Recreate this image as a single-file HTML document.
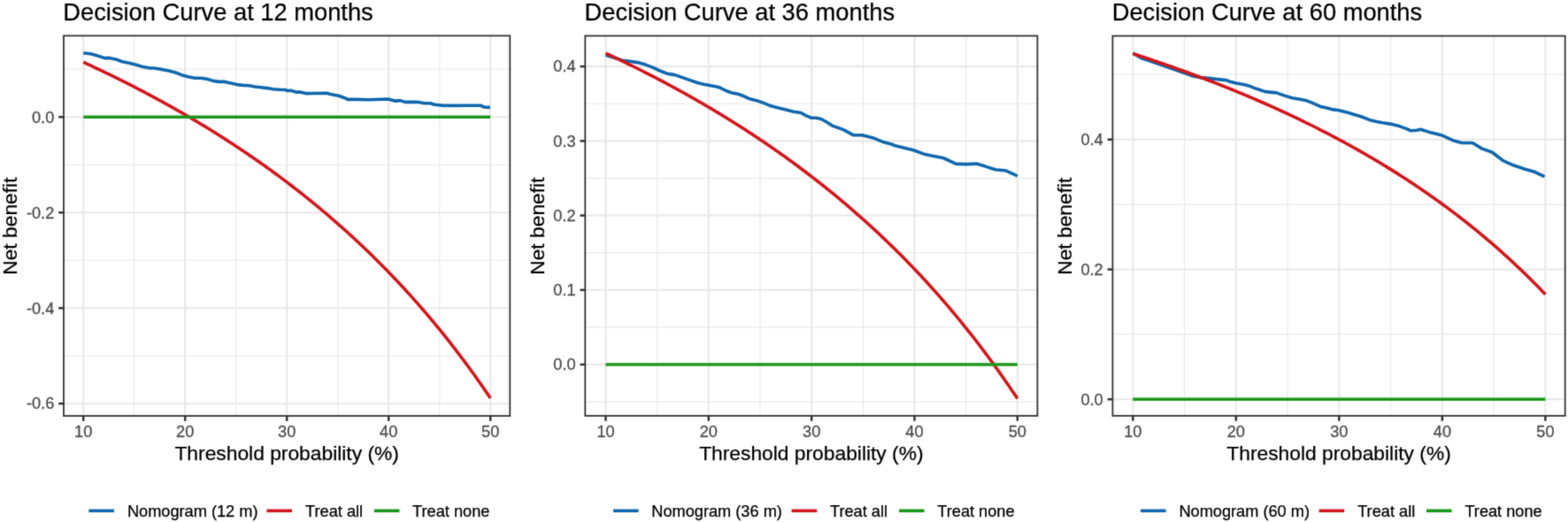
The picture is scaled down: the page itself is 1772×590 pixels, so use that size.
<!DOCTYPE html>
<html><head><meta charset="utf-8"><title>Decision Curves</title>
<style>
html,body{margin:0;padding:0;background:#fff;}
body{width:1772px;height:590px;overflow:hidden;}
svg{display:block;}
text{font-family:"Liberation Sans",Arial,sans-serif;}
.tk{font-size:18.2px;fill:#4d4d4d;stroke:#4d4d4d;stroke-width:0.3px;}
.ax{font-size:22.8px;fill:#000;stroke:#000;stroke-width:0.25px;}
.ti{font-size:27.3px;fill:#000;stroke:#000;stroke-width:0.25px;}
.lg{font-size:18.2px;fill:#000;stroke:#000;stroke-width:0.25px;}
</style></head><body>
<svg width="1772" height="590" viewBox="0 0 1772 590">
<defs><filter id="soft" x="0" y="0" width="1772" height="590" filterUnits="userSpaceOnUse" color-interpolation-filters="sRGB"><feConvolveMatrix order="3" kernelMatrix="0.01917 0.10012 0.01917 0.10012 0.52283 0.10012 0.01917 0.10012 0.01917" edgeMode="duplicate"/></filter></defs>
<g filter="url(#soft)">
<rect x="0" y="0" width="1772" height="590" fill="#ffffff"/>
<line x1="151.7" y1="40.4" x2="151.7" y2="470.1" stroke="#e8e8e8" stroke-width="1.1"/>
<line x1="266.7" y1="40.4" x2="266.7" y2="470.1" stroke="#e8e8e8" stroke-width="1.1"/>
<line x1="381.7" y1="40.4" x2="381.7" y2="470.1" stroke="#e8e8e8" stroke-width="1.1"/>
<line x1="496.7" y1="40.4" x2="496.7" y2="470.1" stroke="#e8e8e8" stroke-width="1.1"/>
<line x1="72" y1="78.32" x2="576.3" y2="78.32" stroke="#e8e8e8" stroke-width="1.1"/>
<line x1="72" y1="186.28" x2="576.3" y2="186.28" stroke="#e8e8e8" stroke-width="1.1"/>
<line x1="72" y1="294.24" x2="576.3" y2="294.24" stroke="#e8e8e8" stroke-width="1.1"/>
<line x1="72" y1="402.2" x2="576.3" y2="402.2" stroke="#e8e8e8" stroke-width="1.1"/>
<line x1="94.2" y1="40.4" x2="94.2" y2="470.1" stroke="#e8e8e8" stroke-width="2.1"/>
<line x1="209.2" y1="40.4" x2="209.2" y2="470.1" stroke="#e8e8e8" stroke-width="2.1"/>
<line x1="324.2" y1="40.4" x2="324.2" y2="470.1" stroke="#e8e8e8" stroke-width="2.1"/>
<line x1="439.2" y1="40.4" x2="439.2" y2="470.1" stroke="#e8e8e8" stroke-width="2.1"/>
<line x1="554.2" y1="40.4" x2="554.2" y2="470.1" stroke="#e8e8e8" stroke-width="2.1"/>
<line x1="72" y1="132.3" x2="576.3" y2="132.3" stroke="#e8e8e8" stroke-width="2.1"/>
<line x1="72" y1="240.26" x2="576.3" y2="240.26" stroke="#e8e8e8" stroke-width="2.1"/>
<line x1="72" y1="348.22" x2="576.3" y2="348.22" stroke="#e8e8e8" stroke-width="2.1"/>
<line x1="72" y1="456.18" x2="576.3" y2="456.18" stroke="#e8e8e8" stroke-width="2.1"/>
<polyline points="94.2,60 102,60.8 110.4,63.1 118.9,65.7 123.1,65.4 130.8,66.9 137.5,69.5 146,71.2 152.8,72.9 161.3,75.4 169.7,77 174,77 182.5,78.4 190.9,80.1 200,82.5 206.8,85.3 213.6,87 220.3,88.3 227.1,88.2 233.9,89.3 240.7,91.4 247.5,92.4 254.2,92.4 261,94.1 267.8,95.6 274.6,96.4 281.4,96.8 288.1,98 294.9,98.8 301.7,99.6 308.5,100.8 315.3,101.3 321.8,101.5 325.2,102.5 328.6,102.2 335.3,104.2 338.7,103.9 345.5,105.6 355.7,105.5 369.2,105.3 372.6,106.3 376,106.9 382.8,108.3 389.6,110.7 393,112.4 403.1,112.4 416.7,112.7 430,112.3 438.8,112.1 446.1,114.1 452,113.6 457.9,115.4 472.6,115.4 479.9,116.7 486.5,116.7 490.9,118.3 499.7,119.1 510.7,119.4 525.4,119.2 543.2,119.2 546.5,120.9 549.5,121.3 553.9,121.4" fill="none" stroke="#1067ad" stroke-width="3.6" stroke-linejoin="round"/>
<polyline points="94.2,70.3 96.2,71.22 98.2,72.14 100.2,73.06 102.2,73.99 104.2,74.93 106.2,75.86 108.2,76.8 110.2,77.75 112.2,78.7 114.2,79.65 116.2,80.6 118.2,81.56 120.2,82.53 122.2,83.49 124.2,84.46 126.2,85.44 128.2,86.42 130.2,87.4 132.2,88.39 134.2,89.38 136.2,90.37 138.2,91.37 140.2,92.37 142.2,93.38 144.2,94.39 146.2,95.4 148.2,96.42 150.2,97.45 152.2,98.47 154.2,99.5 156.2,100.54 158.2,101.58 160.2,102.62 162.2,103.67 164.2,104.73 166.2,105.78 168.2,106.84 170.2,107.91 172.2,108.98 174.2,110.06 176.2,111.14 178.2,112.22 180.2,113.31 182.2,114.4 184.2,115.5 186.2,116.6 188.2,117.71 190.2,118.82 192.2,119.94 194.2,121.06 196.2,122.19 198.2,123.32 200.2,124.45 202.2,125.59 204.2,126.74 206.2,127.89 208.2,129.05 210.2,130.21 212.2,131.37 214.2,132.54 216.2,133.72 218.2,134.9 220.2,136.09 222.2,137.28 224.2,138.48 226.2,139.68 228.2,140.89 230.2,142.1 232.2,143.32 234.2,144.54 236.2,145.77 238.2,147 240.2,148.24 242.2,149.49 244.2,150.74 246.2,152 248.2,153.26 250.2,154.53 252.2,155.81 254.2,157.09 256.2,158.37 258.2,159.66 260.2,160.96 262.2,162.27 264.2,163.58 266.2,164.89 268.2,166.21 270.2,167.54 272.2,168.88 274.2,170.22 276.2,171.57 278.2,172.92 280.2,174.28 282.2,175.65 284.2,177.02 286.2,178.4 288.2,179.78 290.2,181.18 292.2,182.57 294.2,183.98 296.2,185.39 298.2,186.81 300.2,188.24 302.2,189.67 304.2,191.11 306.2,192.56 308.2,194.01 310.2,195.47 312.2,196.94 314.2,198.42 316.2,199.9 318.2,201.39 320.2,202.89 322.2,204.39 324.2,205.9 326.2,207.42 328.2,208.95 330.2,210.49 332.2,212.03 334.2,213.58 336.2,215.14 338.2,216.71 340.2,218.28 342.2,219.86 344.2,221.45 346.2,223.05 348.2,224.66 350.2,226.27 352.2,227.9 354.2,229.53 356.2,231.17 358.2,232.82 360.2,234.47 362.2,236.14 364.2,237.81 366.2,239.5 368.2,241.19 370.2,242.89 372.2,244.6 374.2,246.32 376.2,248.05 378.2,249.78 380.2,251.53 382.2,253.29 384.2,255.05 386.2,256.83 388.2,258.61 390.2,260.4 392.2,262.21 394.2,264.02 396.2,265.85 398.2,267.68 400.2,269.52 402.2,271.38 404.2,273.24 406.2,275.12 408.2,277 410.2,278.9 412.2,280.8 414.2,282.72 416.2,284.64 418.2,286.58 420.2,288.53 422.2,290.49 424.2,292.46 426.2,294.45 428.2,296.44 430.2,298.44 432.2,300.46 434.2,302.49 436.2,304.53 438.2,306.58 440.2,308.64 442.2,310.72 444.2,312.81 446.2,314.91 448.2,317.02 450.2,319.14 452.2,321.28 454.2,323.43 456.2,325.59 458.2,327.77 460.2,329.96 462.2,332.16 464.2,334.38 466.2,336.6 468.2,338.85 470.2,341.1 472.2,343.37 474.2,345.65 476.2,347.95 478.2,350.26 480.2,352.59 482.2,354.93 484.2,357.28 486.2,359.65 488.2,362.03 490.2,364.43 492.2,366.85 494.2,369.28 496.2,371.72 498.2,374.18 500.2,376.65 502.2,379.15 504.2,381.65 506.2,384.18 508.2,386.72 510.2,389.27 512.2,391.84 514.2,394.43 516.2,397.04 518.2,399.66 520.2,402.3 522.2,404.96 524.2,407.64 526.2,410.33 528.2,413.04 530.2,415.77 532.2,418.52 534.2,421.28 536.2,424.07 538.2,426.87 540.2,429.69 542.2,432.53 544.2,435.4 546.2,438.28 548.2,441.18 550.2,444.1 552.2,447.04 554.2,450 554.2,450" fill="none" stroke="#d4161b" stroke-width="3.6" stroke-linejoin="round"/>
<line x1="94.2" y1="132.3" x2="554.2" y2="132.3" stroke="#1b971d" stroke-width="3.6"/>
<rect x="72" y="40.4" width="504.3" height="429.7" fill="none" stroke="#333333" stroke-width="1.8"/>
<line x1="94.2" y1="470.1" x2="94.2" y2="475.9" stroke="#333333" stroke-width="2.5"/>
<text transform="translate(94.2,494) scale(1,1.02)" text-anchor="middle" class="tk">10</text>
<line x1="209.2" y1="470.1" x2="209.2" y2="475.9" stroke="#333333" stroke-width="2.5"/>
<text transform="translate(209.2,494) scale(1,1.02)" text-anchor="middle" class="tk">20</text>
<line x1="324.2" y1="470.1" x2="324.2" y2="475.9" stroke="#333333" stroke-width="2.5"/>
<text transform="translate(324.2,494) scale(1,1.02)" text-anchor="middle" class="tk">30</text>
<line x1="439.2" y1="470.1" x2="439.2" y2="475.9" stroke="#333333" stroke-width="2.5"/>
<text transform="translate(439.2,494) scale(1,1.02)" text-anchor="middle" class="tk">40</text>
<line x1="554.2" y1="470.1" x2="554.2" y2="475.9" stroke="#333333" stroke-width="2.5"/>
<text transform="translate(554.2,494) scale(1,1.02)" text-anchor="middle" class="tk">50</text>
<line x1="66.2" y1="132.3" x2="72" y2="132.3" stroke="#333333" stroke-width="2.5"/>
<text transform="translate(61.3,138.6) scale(1,1.02)" text-anchor="end" class="tk">0.0</text>
<line x1="66.2" y1="240.26" x2="72" y2="240.26" stroke="#333333" stroke-width="2.5"/>
<text transform="translate(61.3,246.56) scale(1,1.02)" text-anchor="end" class="tk">-0.2</text>
<line x1="66.2" y1="348.22" x2="72" y2="348.22" stroke="#333333" stroke-width="2.5"/>
<text transform="translate(61.3,354.52) scale(1,1.02)" text-anchor="end" class="tk">-0.4</text>
<line x1="66.2" y1="456.18" x2="72" y2="456.18" stroke="#333333" stroke-width="2.5"/>
<text transform="translate(61.3,462.48) scale(1,1.02)" text-anchor="end" class="tk">-0.6</text>
<text x="71.3" y="22.7" class="ti">Decision Curve at 12 months</text>
<text x="324.15" y="520.3" text-anchor="middle" class="ax">Threshold probability (%)</text>
<text transform="translate(19.3,255.65) rotate(-90)" x="0" y="0" text-anchor="middle" class="ax">Net benefit</text>
<line x1="100.3" y1="577.3" x2="128.9" y2="577.3" stroke="#1067ad" stroke-width="3.6"/>
<line x1="301.4" y1="577.3" x2="330" y2="577.3" stroke="#d4161b" stroke-width="3.6"/>
<line x1="422.8" y1="577.3" x2="451.4" y2="577.3" stroke="#1b971d" stroke-width="3.6"/>
<text x="143.9" y="583.6" class="lg">Nomogram (12 m)</text>
<text x="345.1" y="583.6" class="lg">Treat all</text>
<text x="466.1" y="583.6" class="lg">Treat none</text>
<line x1="742.66" y1="40.5" x2="742.66" y2="470" stroke="#e8e8e8" stroke-width="1.1"/>
<line x1="859" y1="40.5" x2="859" y2="470" stroke="#e8e8e8" stroke-width="1.1"/>
<line x1="975.33" y1="40.5" x2="975.33" y2="470" stroke="#e8e8e8" stroke-width="1.1"/>
<line x1="1091.65" y1="40.5" x2="1091.65" y2="470" stroke="#e8e8e8" stroke-width="1.1"/>
<line x1="661.3" y1="454.11" x2="1172.4" y2="454.11" stroke="#e8e8e8" stroke-width="1.1"/>
<line x1="661.3" y1="369.89" x2="1172.4" y2="369.89" stroke="#e8e8e8" stroke-width="1.1"/>
<line x1="661.3" y1="285.66" x2="1172.4" y2="285.66" stroke="#e8e8e8" stroke-width="1.1"/>
<line x1="661.3" y1="201.44" x2="1172.4" y2="201.44" stroke="#e8e8e8" stroke-width="1.1"/>
<line x1="661.3" y1="117.21" x2="1172.4" y2="117.21" stroke="#e8e8e8" stroke-width="1.1"/>
<line x1="684.5" y1="40.5" x2="684.5" y2="470" stroke="#e8e8e8" stroke-width="2.1"/>
<line x1="800.83" y1="40.5" x2="800.83" y2="470" stroke="#e8e8e8" stroke-width="2.1"/>
<line x1="917.16" y1="40.5" x2="917.16" y2="470" stroke="#e8e8e8" stroke-width="2.1"/>
<line x1="1033.49" y1="40.5" x2="1033.49" y2="470" stroke="#e8e8e8" stroke-width="2.1"/>
<line x1="1149.82" y1="40.5" x2="1149.82" y2="470" stroke="#e8e8e8" stroke-width="2.1"/>
<line x1="661.3" y1="412" x2="1172.4" y2="412" stroke="#e8e8e8" stroke-width="2.1"/>
<line x1="661.3" y1="327.77" x2="1172.4" y2="327.77" stroke="#e8e8e8" stroke-width="2.1"/>
<line x1="661.3" y1="243.55" x2="1172.4" y2="243.55" stroke="#e8e8e8" stroke-width="2.1"/>
<line x1="661.3" y1="159.33" x2="1172.4" y2="159.33" stroke="#e8e8e8" stroke-width="2.1"/>
<line x1="661.3" y1="75.1" x2="1172.4" y2="75.1" stroke="#e8e8e8" stroke-width="2.1"/>
<polyline points="684.5,62.3 695,65.5 703.4,68.3 711.9,69.4 720.4,70.6 728.8,72.8 737.3,76.2 745.8,80 754.3,83.4 762.7,84.6 771.2,87.6 779.7,90.6 788.2,93.5 795,95.3 801.8,96.5 808.6,97.8 813.6,99.1 820.4,102.5 827.2,105 834,106.3 840.8,108.8 847.5,111.8 856,113.9 862.8,116.4 871.3,119.8 879.7,121.9 888.2,124.1 896.7,126.2 905.2,127.5 910,130.3 916.8,133.2 922.7,133.2 928.6,134.7 934.6,138.3 940.5,142.1 948.1,144.7 954.1,147.2 964.2,152.7 974.4,152.7 986.3,155.7 999,160.8 1007.5,162.9 1010,164.2 1020.2,166.8 1032.4,169.8 1043.6,173.9 1052.7,175.9 1065.9,178.5 1080.2,185.1 1091.4,185.6 1103.6,185.1 1113.7,188.1 1124.9,191.7 1136.1,192.7 1149.8,198.8" fill="none" stroke="#1067ad" stroke-width="3.6" stroke-linejoin="round"/>
<polyline points="684.5,60.11 686.5,61.04 688.5,61.98 690.5,62.92 692.5,63.87 694.5,64.82 696.5,65.77 698.5,66.73 700.5,67.69 702.5,68.65 704.5,69.62 706.5,70.59 708.5,71.56 710.5,72.54 712.5,73.52 714.5,74.51 716.5,75.5 718.5,76.49 720.5,77.49 722.5,78.49 724.5,79.5 726.5,80.51 728.5,81.52 730.5,82.54 732.5,83.56 734.5,84.59 736.5,85.62 738.5,86.66 740.5,87.69 742.5,88.74 744.5,89.78 746.5,90.84 748.5,91.89 750.5,92.95 752.5,94.02 754.5,95.08 756.5,96.16 758.5,97.23 760.5,98.32 762.5,99.4 764.5,100.49 766.5,101.59 768.5,102.69 770.5,103.79 772.5,104.9 774.5,106.02 776.5,107.13 778.5,108.26 780.5,109.39 782.5,110.52 784.5,111.66 786.5,112.8 788.5,113.94 790.5,115.1 792.5,116.25 794.5,117.41 796.5,118.58 798.5,119.75 800.5,120.93 802.5,122.11 804.5,123.3 806.5,124.49 808.5,125.69 810.5,126.89 812.5,128.1 814.5,129.31 816.5,130.53 818.5,131.75 820.5,132.98 822.5,134.22 824.5,135.46 826.5,136.7 828.5,137.95 830.5,139.21 832.5,140.47 834.5,141.74 836.5,143.01 838.5,144.29 840.5,145.57 842.5,146.86 844.5,148.16 846.5,149.46 848.5,150.77 850.5,152.09 852.5,153.4 854.5,154.73 856.5,156.06 858.5,157.4 860.5,158.75 862.5,160.1 864.5,161.45 866.5,162.82 868.5,164.18 870.5,165.56 872.5,166.94 874.5,168.33 876.5,169.73 878.5,171.13 880.5,172.54 882.5,173.95 884.5,175.37 886.5,176.8 888.5,178.23 890.5,179.68 892.5,181.12 894.5,182.58 896.5,184.04 898.5,185.51 900.5,186.99 902.5,188.47 904.5,189.96 906.5,191.46 908.5,192.97 910.5,194.48 912.5,196 914.5,197.53 916.5,199.06 918.5,200.61 920.5,202.16 922.5,203.71 924.5,205.28 926.5,206.85 928.5,208.43 930.5,210.02 932.5,211.62 934.5,213.23 936.5,214.84 938.5,216.46 940.5,218.09 942.5,219.73 944.5,221.37 946.5,223.03 948.5,224.69 950.5,226.36 952.5,228.04 954.5,229.73 956.5,231.43 958.5,233.14 960.5,234.85 962.5,236.57 964.5,238.31 966.5,240.05 968.5,241.8 970.5,243.56 972.5,245.33 974.5,247.11 976.5,248.9 978.5,250.7 980.5,252.5 982.5,254.32 984.5,256.15 986.5,257.98 988.5,259.83 990.5,261.69 992.5,263.55 994.5,265.43 996.5,267.32 998.5,269.22 1000.5,271.12 1002.5,273.04 1004.5,274.97 1006.5,276.91 1008.5,278.86 1010.5,280.82 1012.5,282.79 1014.5,284.77 1016.5,286.77 1018.5,288.77 1020.5,290.79 1022.5,292.82 1024.5,294.86 1026.5,296.91 1028.5,298.97 1030.5,301.04 1032.5,303.13 1034.5,305.23 1036.5,307.34 1038.5,309.46 1040.5,311.59 1042.5,313.74 1044.5,315.9 1046.5,318.07 1048.5,320.26 1050.5,322.46 1052.5,324.67 1054.5,326.89 1056.5,329.13 1058.5,331.38 1060.5,333.64 1062.5,335.92 1064.5,338.21 1066.5,340.51 1068.5,342.83 1070.5,345.16 1072.5,347.51 1074.5,349.87 1076.5,352.25 1078.5,354.64 1080.5,357.04 1082.5,359.46 1084.5,361.89 1086.5,364.34 1088.5,366.81 1090.5,369.29 1092.5,371.78 1094.5,374.29 1096.5,376.82 1098.5,379.36 1100.5,381.92 1102.5,384.5 1104.5,387.09 1106.5,389.7 1108.5,392.32 1110.5,394.97 1112.5,397.63 1114.5,400.3 1116.5,403 1118.5,405.71 1120.5,408.44 1122.5,411.18 1124.5,413.95 1126.5,416.73 1128.5,419.53 1130.5,422.36 1132.5,425.19 1134.5,428.05 1136.5,430.93 1138.5,433.83 1140.5,436.74 1142.5,439.68 1144.5,442.64 1146.5,445.61 1148.5,448.61 1149.82,450.6" fill="none" stroke="#d4161b" stroke-width="3.6" stroke-linejoin="round"/>
<line x1="684.5" y1="412" x2="1149.82" y2="412" stroke="#1b971d" stroke-width="3.6"/>
<rect x="661.3" y="40.5" width="511.1" height="429.5" fill="none" stroke="#333333" stroke-width="1.8"/>
<line x1="684.5" y1="470" x2="684.5" y2="475.8" stroke="#333333" stroke-width="2.5"/>
<text transform="translate(684.5,494) scale(1,1.02)" text-anchor="middle" class="tk">10</text>
<line x1="800.83" y1="470" x2="800.83" y2="475.8" stroke="#333333" stroke-width="2.5"/>
<text transform="translate(800.83,494) scale(1,1.02)" text-anchor="middle" class="tk">20</text>
<line x1="917.16" y1="470" x2="917.16" y2="475.8" stroke="#333333" stroke-width="2.5"/>
<text transform="translate(917.16,494) scale(1,1.02)" text-anchor="middle" class="tk">30</text>
<line x1="1033.49" y1="470" x2="1033.49" y2="475.8" stroke="#333333" stroke-width="2.5"/>
<text transform="translate(1033.49,494) scale(1,1.02)" text-anchor="middle" class="tk">40</text>
<line x1="1149.82" y1="470" x2="1149.82" y2="475.8" stroke="#333333" stroke-width="2.5"/>
<text transform="translate(1149.82,494) scale(1,1.02)" text-anchor="middle" class="tk">50</text>
<line x1="655.5" y1="412" x2="661.3" y2="412" stroke="#333333" stroke-width="2.5"/>
<text transform="translate(650.6,418.3) scale(1,1.02)" text-anchor="end" class="tk">0.0</text>
<line x1="655.5" y1="327.77" x2="661.3" y2="327.77" stroke="#333333" stroke-width="2.5"/>
<text transform="translate(650.6,334.07) scale(1,1.02)" text-anchor="end" class="tk">0.1</text>
<line x1="655.5" y1="243.55" x2="661.3" y2="243.55" stroke="#333333" stroke-width="2.5"/>
<text transform="translate(650.6,249.85) scale(1,1.02)" text-anchor="end" class="tk">0.2</text>
<line x1="655.5" y1="159.33" x2="661.3" y2="159.33" stroke="#333333" stroke-width="2.5"/>
<text transform="translate(650.6,165.63) scale(1,1.02)" text-anchor="end" class="tk">0.3</text>
<line x1="655.5" y1="75.1" x2="661.3" y2="75.1" stroke="#333333" stroke-width="2.5"/>
<text transform="translate(650.6,81.4) scale(1,1.02)" text-anchor="end" class="tk">0.4</text>
<text x="660.6" y="22.7" class="ti">Decision Curve at 36 months</text>
<text x="916.85" y="520.3" text-anchor="middle" class="ax">Threshold probability (%)</text>
<text transform="translate(615.3,255.65) rotate(-90)" x="0" y="0" text-anchor="middle" class="ax">Net benefit</text>
<line x1="693" y1="577.3" x2="721.6" y2="577.3" stroke="#1067ad" stroke-width="3.6"/>
<line x1="894.6" y1="577.3" x2="923.2" y2="577.3" stroke="#d4161b" stroke-width="3.6"/>
<line x1="1016" y1="577.3" x2="1044.6" y2="577.3" stroke="#1b971d" stroke-width="3.6"/>
<text x="736.3" y="583.6" class="lg">Nomogram (36 m)</text>
<text x="938" y="583.6" class="lg">Treat all</text>
<text x="1059.3" y="583.6" class="lg">Treat none</text>
<line x1="1338.56" y1="40.6" x2="1338.56" y2="470" stroke="#e8e8e8" stroke-width="1.1"/>
<line x1="1455.09" y1="40.6" x2="1455.09" y2="470" stroke="#e8e8e8" stroke-width="1.1"/>
<line x1="1571.61" y1="40.6" x2="1571.61" y2="470" stroke="#e8e8e8" stroke-width="1.1"/>
<line x1="1688.14" y1="40.6" x2="1688.14" y2="470" stroke="#e8e8e8" stroke-width="1.1"/>
<line x1="1257.4" y1="377.9" x2="1768.7" y2="377.9" stroke="#e8e8e8" stroke-width="1.1"/>
<line x1="1257.4" y1="231.1" x2="1768.7" y2="231.1" stroke="#e8e8e8" stroke-width="1.1"/>
<line x1="1257.4" y1="84.3" x2="1768.7" y2="84.3" stroke="#e8e8e8" stroke-width="1.1"/>
<line x1="1280.3" y1="40.6" x2="1280.3" y2="470" stroke="#e8e8e8" stroke-width="2.1"/>
<line x1="1396.83" y1="40.6" x2="1396.83" y2="470" stroke="#e8e8e8" stroke-width="2.1"/>
<line x1="1513.35" y1="40.6" x2="1513.35" y2="470" stroke="#e8e8e8" stroke-width="2.1"/>
<line x1="1629.88" y1="40.6" x2="1629.88" y2="470" stroke="#e8e8e8" stroke-width="2.1"/>
<line x1="1746.4" y1="40.6" x2="1746.4" y2="470" stroke="#e8e8e8" stroke-width="2.1"/>
<line x1="1257.4" y1="451.3" x2="1768.7" y2="451.3" stroke="#e8e8e8" stroke-width="2.1"/>
<line x1="1257.4" y1="304.5" x2="1768.7" y2="304.5" stroke="#e8e8e8" stroke-width="2.1"/>
<line x1="1257.4" y1="157.7" x2="1768.7" y2="157.7" stroke="#e8e8e8" stroke-width="2.1"/>
<polyline points="1280.3,60.1 1290,65.79 1300,69.13 1310,72.53 1320,76 1330,79.54 1340,83.14 1348,86.09 1356,87.6 1365.6,88.4 1375.8,89.6 1385.9,90.6 1390,92.2 1396.8,93.9 1405.3,95.6 1411.2,96.9 1419.7,100.3 1429.8,103.6 1442.5,104.9 1451,107.9 1460.3,110.8 1468,112.1 1475.6,113.4 1483.2,116.4 1491.7,120.2 1500.2,122.3 1505,123.6 1513.5,124.8 1521.9,126.9 1530.4,129.5 1538.9,132 1547.4,135.4 1555.8,137.5 1562.6,138.8 1571.1,140.1 1581.3,142.6 1589.7,145.6 1594,147.7 1600.8,147.3 1605.8,146.3 1615.2,149.4 1620,150.5 1628.8,152.7 1642,158.7 1652,161.5 1664.1,161.5 1675.1,168.1 1686.1,172 1698.2,181.3 1710.3,186.8 1723.6,191.2 1733.5,194 1745.6,199.6" fill="none" stroke="#1067ad" stroke-width="3.6" stroke-linejoin="round"/>
<polyline points="1280.3,60.62 1282.3,61.27 1284.3,61.92 1286.3,62.57 1288.3,63.23 1290.3,63.89 1292.3,64.55 1294.3,65.22 1296.3,65.89 1298.3,66.56 1300.3,67.23 1302.3,67.9 1304.3,68.58 1306.3,69.26 1308.3,69.95 1310.3,70.63 1312.3,71.32 1314.3,72.01 1316.3,72.71 1318.3,73.4 1320.3,74.1 1322.3,74.8 1324.3,75.51 1326.3,76.22 1328.3,76.93 1330.3,77.64 1332.3,78.36 1334.3,79.08 1336.3,79.8 1338.3,80.53 1340.3,81.25 1342.3,81.99 1344.3,82.72 1346.3,83.46 1348.3,84.2 1350.3,84.94 1352.3,85.69 1354.3,86.44 1356.3,87.19 1358.3,87.94 1360.3,88.7 1362.3,89.46 1364.3,90.23 1366.3,91 1368.3,91.77 1370.3,92.54 1372.3,93.32 1374.3,94.1 1376.3,94.88 1378.3,95.67 1380.3,96.46 1382.3,97.26 1384.3,98.05 1386.3,98.86 1388.3,99.66 1390.3,100.47 1392.3,101.28 1394.3,102.09 1396.3,102.91 1398.3,103.73 1400.3,104.56 1402.3,105.39 1404.3,106.22 1406.3,107.06 1408.3,107.9 1410.3,108.74 1412.3,109.59 1414.3,110.44 1416.3,111.29 1418.3,112.15 1420.3,113.01 1422.3,113.88 1424.3,114.75 1426.3,115.62 1428.3,116.5 1430.3,117.38 1432.3,118.26 1434.3,119.15 1436.3,120.05 1438.3,120.94 1440.3,121.84 1442.3,122.75 1444.3,123.66 1446.3,124.57 1448.3,125.49 1450.3,126.41 1452.3,127.34 1454.3,128.27 1456.3,129.2 1458.3,130.14 1460.3,131.08 1462.3,132.03 1464.3,132.98 1466.3,133.94 1468.3,134.9 1470.3,135.86 1472.3,136.83 1474.3,137.81 1476.3,138.79 1478.3,139.77 1480.3,140.76 1482.3,141.75 1484.3,142.75 1486.3,143.75 1488.3,144.76 1490.3,145.77 1492.3,146.78 1494.3,147.8 1496.3,148.83 1498.3,149.86 1500.3,150.9 1502.3,151.94 1504.3,152.99 1506.3,154.04 1508.3,155.09 1510.3,156.15 1512.3,157.22 1514.3,158.29 1516.3,159.37 1518.3,160.45 1520.3,161.54 1522.3,162.63 1524.3,163.73 1526.3,164.84 1528.3,165.95 1530.3,167.06 1532.3,168.18 1534.3,169.31 1536.3,170.44 1538.3,171.58 1540.3,172.72 1542.3,173.87 1544.3,175.03 1546.3,176.19 1548.3,177.36 1550.3,178.53 1552.3,179.71 1554.3,180.9 1556.3,182.09 1558.3,183.29 1560.3,184.49 1562.3,185.7 1564.3,186.92 1566.3,188.14 1568.3,189.37 1570.3,190.6 1572.3,191.85 1574.3,193.1 1576.3,194.35 1578.3,195.61 1580.3,196.88 1582.3,198.16 1584.3,199.44 1586.3,200.73 1588.3,202.03 1590.3,203.33 1592.3,204.64 1594.3,205.96 1596.3,207.28 1598.3,208.62 1600.3,209.96 1602.3,211.3 1604.3,212.66 1606.3,214.02 1608.3,215.39 1610.3,216.77 1612.3,218.15 1614.3,219.54 1616.3,220.94 1618.3,222.35 1620.3,223.77 1622.3,225.19 1624.3,226.62 1626.3,228.06 1628.3,229.51 1630.3,230.97 1632.3,232.44 1634.3,233.91 1636.3,235.39 1638.3,236.88 1640.3,238.38 1642.3,239.89 1644.3,241.41 1646.3,242.93 1648.3,244.47 1650.3,246.01 1652.3,247.56 1654.3,249.13 1656.3,250.7 1658.3,252.28 1660.3,253.87 1662.3,255.47 1664.3,257.08 1666.3,258.7 1668.3,260.33 1670.3,261.97 1672.3,263.61 1674.3,265.27 1676.3,266.94 1678.3,268.62 1680.3,270.31 1682.3,272.01 1684.3,273.72 1686.3,275.44 1688.3,277.18 1690.3,278.92 1692.3,280.67 1694.3,282.44 1696.3,284.21 1698.3,286 1700.3,287.8 1702.3,289.61 1704.3,291.43 1706.3,293.27 1708.3,295.11 1710.3,296.97 1712.3,298.84 1714.3,300.72 1716.3,302.61 1718.3,304.52 1720.3,306.44 1722.3,308.37 1724.3,310.31 1726.3,312.27 1728.3,314.24 1730.3,316.22 1732.3,318.22 1734.3,320.23 1736.3,322.25 1738.3,324.29 1740.3,326.34 1742.3,328.41 1744.3,330.49 1746.3,332.58 1746.4,332.69" fill="none" stroke="#d4161b" stroke-width="3.6" stroke-linejoin="round"/>
<line x1="1280.3" y1="451.3" x2="1746.4" y2="451.3" stroke="#1b971d" stroke-width="3.6"/>
<rect x="1257.4" y="40.6" width="511.3" height="429.4" fill="none" stroke="#333333" stroke-width="1.8"/>
<line x1="1280.3" y1="470" x2="1280.3" y2="475.8" stroke="#333333" stroke-width="2.5"/>
<text transform="translate(1280.3,494) scale(1,1.02)" text-anchor="middle" class="tk">10</text>
<line x1="1396.83" y1="470" x2="1396.83" y2="475.8" stroke="#333333" stroke-width="2.5"/>
<text transform="translate(1396.83,494) scale(1,1.02)" text-anchor="middle" class="tk">20</text>
<line x1="1513.35" y1="470" x2="1513.35" y2="475.8" stroke="#333333" stroke-width="2.5"/>
<text transform="translate(1513.35,494) scale(1,1.02)" text-anchor="middle" class="tk">30</text>
<line x1="1629.88" y1="470" x2="1629.88" y2="475.8" stroke="#333333" stroke-width="2.5"/>
<text transform="translate(1629.88,494) scale(1,1.02)" text-anchor="middle" class="tk">40</text>
<line x1="1746.4" y1="470" x2="1746.4" y2="475.8" stroke="#333333" stroke-width="2.5"/>
<text transform="translate(1746.4,494) scale(1,1.02)" text-anchor="middle" class="tk">50</text>
<line x1="1251.6" y1="451.3" x2="1257.4" y2="451.3" stroke="#333333" stroke-width="2.5"/>
<text transform="translate(1246.7,457.6) scale(1,1.02)" text-anchor="end" class="tk">0.0</text>
<line x1="1251.6" y1="304.5" x2="1257.4" y2="304.5" stroke="#333333" stroke-width="2.5"/>
<text transform="translate(1246.7,310.8) scale(1,1.02)" text-anchor="end" class="tk">0.2</text>
<line x1="1251.6" y1="157.7" x2="1257.4" y2="157.7" stroke="#333333" stroke-width="2.5"/>
<text transform="translate(1246.7,164) scale(1,1.02)" text-anchor="end" class="tk">0.4</text>
<text x="1256.7" y="22.7" class="ti">Decision Curve at 60 months</text>
<text x="1513.05" y="520.3" text-anchor="middle" class="ax">Threshold probability (%)</text>
<text transform="translate(1211.3,255.7) rotate(-90)" x="0" y="0" text-anchor="middle" class="ax">Net benefit</text>
<line x1="1289" y1="577.3" x2="1317.6" y2="577.3" stroke="#1067ad" stroke-width="3.6"/>
<line x1="1490.6" y1="577.3" x2="1519.2" y2="577.3" stroke="#d4161b" stroke-width="3.6"/>
<line x1="1612" y1="577.3" x2="1640.6" y2="577.3" stroke="#1b971d" stroke-width="3.6"/>
<text x="1332.4" y="583.6" class="lg">Nomogram (60 m)</text>
<text x="1534.2" y="583.6" class="lg">Treat all</text>
<text x="1655.4" y="583.6" class="lg">Treat none</text>
</g>
</svg>
</body></html>
